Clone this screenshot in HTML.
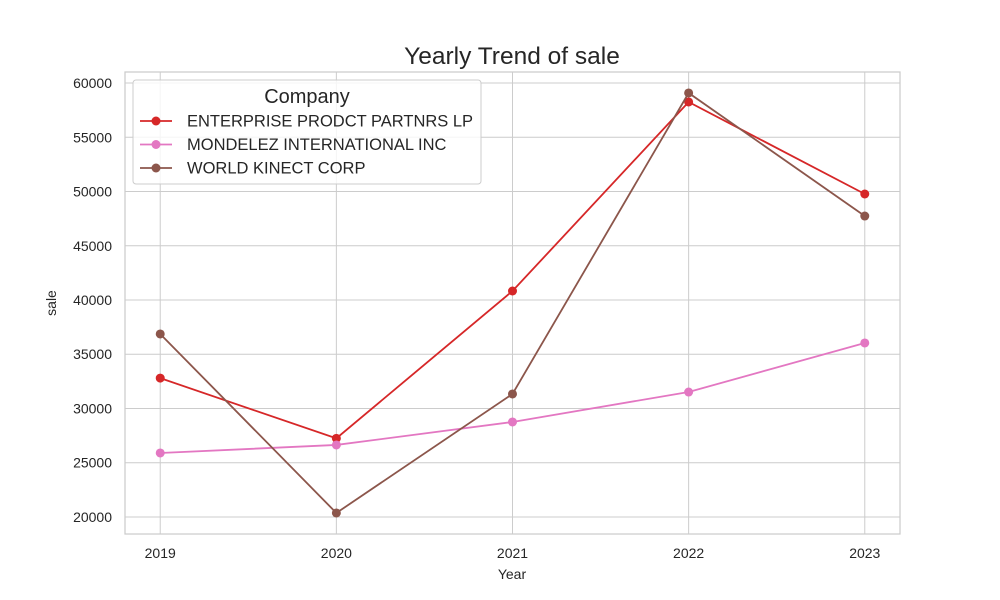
<!DOCTYPE html>
<html><head><meta charset="utf-8"><style>
body{margin:0;background:#fff;}
svg{display:block;font-family:"Liberation Sans","DejaVu Sans",sans-serif;}
</style></head><body>
<svg id="chart" width="1000" height="600" xmlns="http://www.w3.org/2000/svg"></svg>
<script>
const years = [2019, 2020, 2021, 2022, 2023];
const yTicks = [20000, 25000, 30000, 35000, 40000, 45000, 50000, 55000, 60000];
const seriesNames = ["ENTERPRISE PRODCT PARTNRS LP", "MONDELEZ INTERNATIONAL INC", "WORLD KINECT CORP"];
const enterpriseValues = [32800, 27250, 40830, 58250, 49770];
const mondelezValues = [25900, 26640, 28760, 31520, 36040];
const worldValues = [36870, 20370, 31340, 59080, 47740];
const seriesColors = ["#d62728", "#e377c2", "#8c564b"];

const svg = document.getElementById('chart');
const NS = "http://www.w3.org/2000/svg";
const L=125,R=900,T=72,B=534;
const xMin=2018.8,xMax=2023.2,yMin=18433,yMax=61014;
const xs=v=>L+(v-xMin)/(xMax-xMin)*(R-L);
const ys=v=>B-(v-yMin)/(yMax-yMin)*(B-T);
function mk(tag,attrs,parent){const e=document.createElementNS(NS,tag);for(const k in attrs)e.setAttribute(k,attrs[k]);(parent||svg).appendChild(e);return e;}

const grid=mk('g',{});


years.forEach(y=>{
  const l=mk('line',{x1:xs(y),x2:xs(y),y1:T,y2:B,stroke:'#cccccc','stroke-width':1},grid);
  
  
  const t=mk('text',{x:xs(y),y:B+24,'text-anchor':'middle','font-size':14,fill:'#262626'});
  t.textContent=y;
  
  
});
yTicks.forEach(v=>{
  const l=mk('line',{x1:L,x2:R,y1:ys(v),y2:ys(v),stroke:'#cccccc','stroke-width':1},grid);
  
  
  const t=mk('text',{x:L-13,y:ys(v)+5,'text-anchor':'end','font-size':14,fill:'#262626'});
  t.textContent=v;
  
  
});
const frame=mk('rect',{x:L,y:T,width:R-L,height:B-T,fill:'none',stroke:'#cccccc','stroke-width':1.25});



const allVals=[enterpriseValues,mondelezValues,worldValues];
allVals.forEach((vals,i)=>{
  const g=mk('g',{});
  
  
  const p=mk('polyline',{points:vals.map((v,j)=>xs(years[j])+','+ys(v)).join(' '),fill:'none',stroke:seriesColors[i],'stroke-width':1.8},g);
  
  
  vals.forEach((v,j)=>{
    const c=mk('circle',{cx:xs(years[j]),cy:ys(v),r:4.5,fill:seriesColors[i]},g);
    
    
  });
});

const title=mk('text',{x:512,y:64,'text-anchor':'middle','font-size':24.5,fill:'#262626'});
title.textContent='Yearly Trend of sale';


const xt=mk('text',{x:512,y:579,'text-anchor':'middle','font-size':14,fill:'#262626'});
xt.textContent='Year';


const yt=mk('text',{x:56,y:303,'text-anchor':'middle','font-size':14,fill:'#262626',transform:'rotate(-90 56 303)'});
yt.textContent='sale';



const lg=mk('g',{});


mk('rect',{x:133,y:80,width:348,height:104,rx:3,fill:'#ffffff','fill-opacity':0.8,stroke:'#cccccc'},lg);
const lt=mk('text',{x:307,y:103,'text-anchor':'middle','font-size':20,fill:'#262626'},lg);
lt.textContent='Company';


seriesNames.forEach((n,i)=>{
  const y=121+i*23.5;
  const e=mk('g',{},lg);
  
  
  mk('line',{x1:140,x2:172,y1:y,y2:y,stroke:seriesColors[i],'stroke-width':1.8},e);
  mk('circle',{cx:156,cy:y,r:4.5,fill:seriesColors[i]},e);
  const t=mk('text',{x:187,y:y+5.5,'font-size':16.5,fill:'#262626'},e);
  t.textContent=n;
});
</script>
</body></html>
